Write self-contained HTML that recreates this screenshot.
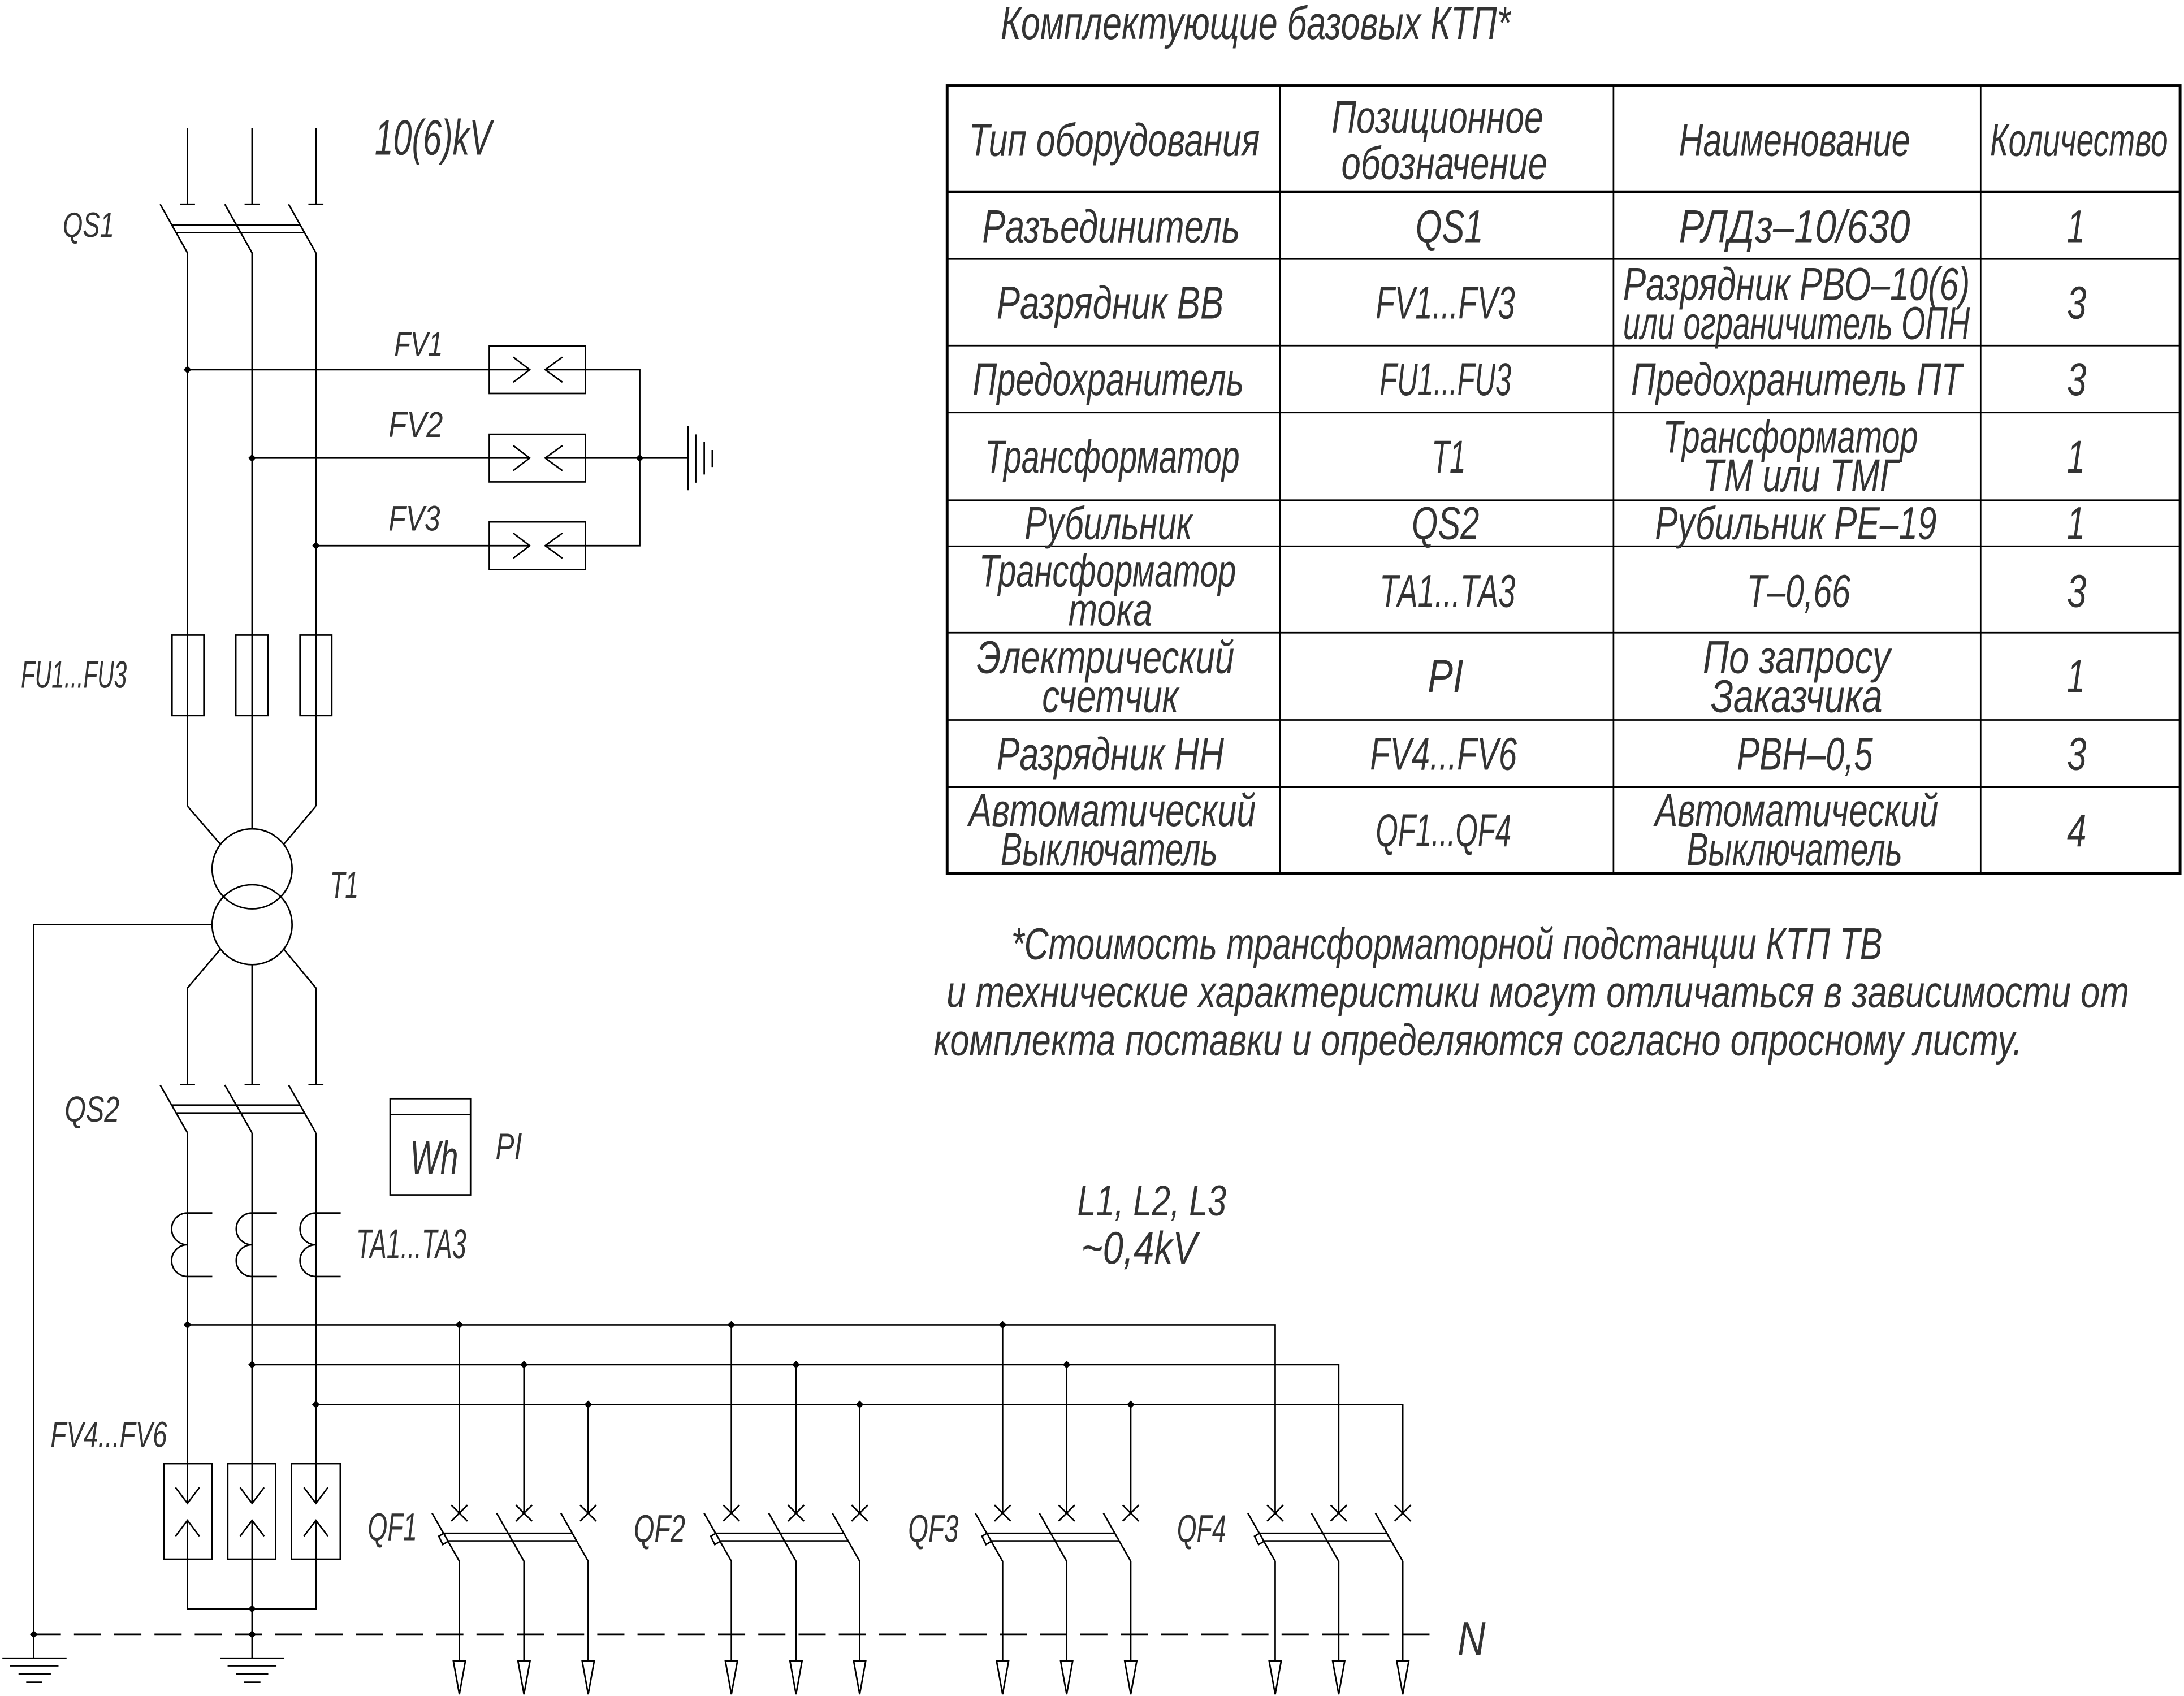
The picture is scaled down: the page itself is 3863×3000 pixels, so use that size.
<!DOCTYPE html>
<html>
<head>
<meta charset="utf-8">
<style>
html,body{margin:0;padding:0;background:#fff;}
svg{display:block;}
</style>
</head>
<body>
<svg xmlns="http://www.w3.org/2000/svg" width="3863" height="3000" viewBox="0 0 1568 1217.7" preserveAspectRatio="none">
<rect x="0" y="0" width="1568" height="1217.7" fill="#fff"/>

<!-- ===================== DIAGRAM LINES ===================== -->
<g stroke="#000" stroke-width="1.1" fill="none" stroke-linecap="butt">
  <!-- QS1 incoming lines and T-bars -->
  <path d="M134.6,92 V146.6 M129.2,146.6 H140 M181,92 V146.6 M175.6,146.6 H186.4 M226.8,92 V146.6 M221.4,146.6 H232.2"/>
  <!-- QS1 blades -->
  <path d="M115,146.6 L134.6,181.6 M161.4,146.6 L181,181.6 M207.2,146.6 L226.8,181.6"/>
  <!-- QS1 link -->
  <path d="M123.4,161.6 H215.6 M126.5,167.1 H218.7"/>
  <!-- HV verticals -->
  <path d="M134.6,181.6 V578.8 M181,181.6 V595.1 M226.8,181.6 V578.8"/>

  <!-- FV1..FV3 -->
  <path d="M134.6,265.4 H380.3 M181,328.9 H380.3 M226.8,391.8 H380.3"/>
  <rect x="351.3" y="248.3" width="69" height="34.2"/>
  <rect x="351.3" y="311.8" width="69" height="34.2"/>
  <rect x="351.3" y="374.7" width="69" height="34.2"/>
  <path d="M368.5,256.4 L380.3,265.4 L368.5,274.4 M403.8,256.4 L391.4,265.4 L403.8,274.4"/>
  <path d="M368.5,319.9 L380.3,328.9 L368.5,337.9 M403.8,319.9 L391.4,328.9 L403.8,337.9"/>
  <path d="M368.5,382.8 L380.3,391.8 L368.5,400.8 M403.8,382.8 L391.4,391.8 L403.8,400.8"/>
  <path d="M391.4,265.4 H459.3 V391.8 H391.4 M391.4,328.9 H494"/>
  <!-- HV ground -->
  <path d="M494,305.8 V352 M499.5,311.9 V346.6 M505.6,317.3 V340.7 M511.4,323.1 V335.3"/>

  <!-- Fuses -->
  <rect x="123.5" y="456" width="22.9" height="57.8"/>
  <rect x="169.3" y="456" width="23.2" height="57.8"/>
  <rect x="215.4" y="456" width="22.8" height="57.8"/>

  <!-- Transformer -->
  <path d="M134.6,578.8 L158.2,606.1 M226.8,578.8 L203.8,606.1"/>
  <circle cx="181" cy="623.8" r="28.7"/>
  <circle cx="181" cy="663.9" r="28.7"/>
  <path d="M152.3,663.9 H24.2 V1190.6"/>
  <path d="M158.2,681.6 L134.6,709.3 V778.7 M203.8,681.6 L226.8,709.3 V778.7 M181,692.6 V778.7"/>
  <path d="M129.2,778.7 H140 M175.6,778.7 H186.4 M221.4,778.7 H232.2"/>

  <!-- QS2 -->
  <path d="M115,779 L134.6,813.4 M161.4,779 L181,813.4 M207.2,779 L226.8,813.4"/>
  <path d="M123.2,793.4 H215.4 M126.4,799.1 H218.6"/>
  <path d="M134.6,813.4 V1079.4 M181,813.4 V1079.4 M226.8,813.4 V1079.4"/>

  <!-- Meter -->
  <rect x="280.1" y="788.8" width="57.7" height="69.1"/>
  <path d="M280.1,800.3 H337.8"/>

  <!-- Current transformers -->
  <path d="M134.6,870.9 A11.4,11.4 0 0 0 134.6,893.7 A11.4,11.4 0 0 0 134.6,916.5 M134.6,870.9 H152.4 M134.6,916.5 H152.4"/>
  <path d="M181,870.9 A11.4,11.4 0 0 0 181,893.7 A11.4,11.4 0 0 0 181,916.5 M181,870.9 H198.8 M181,916.5 H198.8"/>
  <path d="M226.8,870.9 A11.4,11.4 0 0 0 226.8,893.7 A11.4,11.4 0 0 0 226.8,916.5 M226.8,870.9 H244.6 M226.8,916.5 H244.6"/>

  <!-- LV buses -->
  <path d="M134.6,951.2 H915.5 V1086.4 M181,979.8 H961.1 V1086.4 M226.8,1008.4 H1007.1 V1086.4"/>
  <path d="M329.8,951.2 V1086.4 M525.1,951.2 V1086.4 M719.8,951.2 V1086.4"/>
  <path d="M376.2,979.8 V1086.4 M571.5,979.8 V1086.4 M765.8,979.8 V1086.4"/>
  <path d="M422.3,1008.4 V1086.4 M617.2,1008.4 V1086.4 M811.8,1008.4 V1086.4"/>

  <!-- FV4..FV6 -->
  <rect x="117.8" y="1050.9" width="34.3" height="68.6"/>
  <rect x="163.5" y="1050.9" width="34.4" height="68.6"/>
  <rect x="209.3" y="1050.9" width="35" height="68.6"/>
  <path d="M126,1068 L134.6,1079.4 L143.2,1068 M126,1103 L134.6,1091.6 L143.2,1103"/>
  <path d="M172.4,1068 L181,1079.4 L189.6,1068 M172.4,1103 L181,1091.6 L189.6,1103"/>
  <path d="M218.2,1068 L226.8,1079.4 L235.4,1068 M218.2,1103 L226.8,1091.6 L235.4,1103"/>
  <path d="M134.6,1091.6 V1155.1 H226.8 V1091.6 M181,1091.6 V1190.6"/>

  <!-- Grounds -->
  <path d="M1.7,1190.6 H47.8 M7.2,1196 H42 M13.3,1201.8 H36.5 M18.8,1207.8 H30.2"/>
  <path d="M158,1190.6 H204 M163.4,1196 H198.5 M169.3,1201.8 H192.6 M175,1207.8 H187"/>

  <!-- N line -->
  <path d="M24.2,1173.4 H1028" stroke-dasharray="19.5 9.4"/>

  <!-- QF breakers: crosses, blades, down lines -->
  <path d="
  M324,1080.6 L335.6,1092.2 M335.6,1080.6 L324,1092.2
  M370.4,1080.6 L382,1092.2 M382,1080.6 L370.4,1092.2
  M416.5,1080.6 L428.1,1092.2 M428.1,1080.6 L416.5,1092.2
  M519.3,1080.6 L530.9,1092.2 M530.9,1080.6 L519.3,1092.2
  M565.7,1080.6 L577.3,1092.2 M577.3,1080.6 L565.7,1092.2
  M611.4,1080.6 L623,1092.2 M623,1080.6 L611.4,1092.2
  M714,1080.6 L725.6,1092.2 M725.6,1080.6 L714,1092.2
  M760,1080.6 L771.6,1092.2 M771.6,1080.6 L760,1092.2
  M806,1080.6 L817.6,1092.2 M817.6,1080.6 L806,1092.2
  M909.7,1080.6 L921.3,1092.2 M921.3,1080.6 L909.7,1092.2
  M955.3,1080.6 L966.9,1092.2 M966.9,1080.6 L955.3,1092.2
  M1001.3,1080.6 L1012.9,1092.2 M1012.9,1080.6 L1001.3,1092.2"/>
  <path d="
  M310.2,1086.4 L329.8,1121 V1192.7 M356.6,1086.4 L376.2,1121 V1192.7 M402.7,1086.4 L422.3,1121 V1192.7
  M505.5,1086.4 L525.1,1121 V1192.7 M551.9,1086.4 L571.5,1121 V1192.7 M597.6,1086.4 L617.2,1121 V1192.7
  M700.2,1086.4 L719.8,1121 V1192.7 M746.2,1086.4 L765.8,1121 V1192.7 M792.2,1086.4 L811.8,1121 V1192.7
  M895.9,1086.4 L915.5,1121 V1192.7 M941.5,1086.4 L961.1,1121 V1192.7 M987.5,1086.4 L1007.1,1121 V1192.7"/>
  <!-- links -->
  <path d="
  M318.4,1100.9 H410.9 M321.5,1106.3 H414
  M513.7,1100.9 H605.8 M516.8,1106.3 H608.9
  M708.4,1100.9 H800.4 M711.5,1106.3 H803.5
  M904.1,1100.9 H995.7 M907.2,1106.3 H998.8"/>
  <!-- arrows -->
  <path fill="#fff" d="
  M325.5,1192.7 H334.1 L329.8,1216.5 Z M371.9,1192.7 H380.5 L376.2,1216.5 Z M418,1192.7 H426.6 L422.3,1216.5 Z
  M520.8,1192.7 H529.4 L525.1,1216.5 Z M567.2,1192.7 H575.8 L571.5,1216.5 Z M612.9,1192.7 H621.5 L617.2,1216.5 Z
  M715.5,1192.7 H724.1 L719.8,1216.5 Z M761.5,1192.7 H770.1 L765.8,1216.5 Z M807.5,1192.7 H816.1 L811.8,1216.5 Z
  M911.2,1192.7 H919.8 L915.5,1216.5 Z M956.8,1192.7 H965.4 L961.1,1216.5 Z M1002.8,1192.7 H1011.4 L1007.1,1216.5 Z"/>
  <!-- thermal release squares -->
  <path fill="#fff" d="
  M315,1103 L318.6,1100.9 L321.7,1106.7 L317.9,1109 Z
  M510.3,1103 L513.9,1100.9 L517,1106.7 L513.2,1109 Z
  M705,1103 L708.6,1100.9 L711.7,1106.7 L707.9,1109 Z
  M900.7,1103 L904.3,1100.9 L907.4,1106.7 L903.6,1109 Z"/>

  <!-- Table -->
  <rect x="680" y="61.5" width="885.2" height="565.8" stroke-width="2"/>
  <path d="M680,137.7 H1565.2" stroke-width="2"/>
  <path d="M680,186 H1565.2 M680,248.1 H1565.2 M680,296.2 H1565.2 M680,359.1 H1565.2 M680,392.2 H1565.2 M680,454.3 H1565.2 M680,516.9 H1565.2 M680,565.1 H1565.2"/>
  <path d="M918.9,61.5 V627.3 M1158.4,61.5 V627.3 M1422,61.5 V627.3"/>
</g>

<!-- junction dots -->
<g fill="#000" stroke="none">
  <path d="M131.8,265.4 L134.6,262.6 L137.4,265.4 L134.6,268.2 Z"/>
  <path d="M178.2,328.9 L181,326.1 L183.8,328.9 L181,331.7 Z"/>
  <path d="M456.5,328.9 L459.3,326.1 L462.1,328.9 L459.3,331.7 Z"/>
  <path d="M224,391.8 L226.8,389 L229.6,391.8 L226.8,394.6 Z"/>
  <path d="M131.8,951.2 L134.6,948.4 L137.4,951.2 L134.6,954 Z"/>
  <path d="M178.2,979.8 L181,977 L183.8,979.8 L181,982.6 Z"/>
  <path d="M224,1008.4 L226.8,1005.6 L229.6,1008.4 L226.8,1011.2 Z"/>
  <path d="M327,951.2 L329.8,948.4 L332.6,951.2 L329.8,954 Z"/>
  <path d="M522.3,951.2 L525.1,948.4 L527.9,951.2 L525.1,954 Z"/>
  <path d="M717,951.2 L719.8,948.4 L722.6,951.2 L719.8,954 Z"/>
  <path d="M373.4,979.8 L376.2,977 L379,979.8 L376.2,982.6 Z"/>
  <path d="M568.7,979.8 L571.5,977 L574.3,979.8 L571.5,982.6 Z"/>
  <path d="M763,979.8 L765.8,977 L768.6,979.8 L765.8,982.6 Z"/>
  <path d="M419.5,1008.4 L422.3,1005.6 L425.1,1008.4 L422.3,1011.2 Z"/>
  <path d="M614.4,1008.4 L617.2,1005.6 L620,1008.4 L617.2,1011.2 Z"/>
  <path d="M809,1008.4 L811.8,1005.6 L814.6,1008.4 L811.8,1011.2 Z"/>
  <path d="M178.2,1155.1 L181,1152.3 L183.8,1155.1 L181,1157.9 Z"/>
  <path d="M178.2,1173.4 L181,1170.6 L183.8,1173.4 L181,1176.2 Z"/>
  <path d="M21.4,1173.4 L24.2,1170.6 L27,1173.4 L24.2,1176.2 Z"/>
</g>

<!-- ===================== TEXT ===================== -->
<g font-family="'Liberation Sans', 'DejaVu Sans', sans-serif" font-style="italic" fill="#333" stroke="none">
  <!-- Diagram labels -->
  <text x="269" y="111" font-size="35.8" textLength="84" lengthAdjust="spacingAndGlyphs">10(6)kV</text>
  <text x="45" y="170" font-size="25.1" textLength="37" lengthAdjust="spacingAndGlyphs">QS1</text>
  <text x="283" y="255.5" font-size="24.4" textLength="35" lengthAdjust="spacingAndGlyphs">FV1</text>
  <text x="279" y="313.7" font-size="26" textLength="39" lengthAdjust="spacingAndGlyphs">FV2</text>
  <text x="279" y="381" font-size="25.7" textLength="37" lengthAdjust="spacingAndGlyphs">FV3</text>
  <text x="15" y="493.8" font-size="27.6" textLength="76" lengthAdjust="spacingAndGlyphs">FU1...FU3</text>
  <text x="237" y="645" font-size="27.4" textLength="20.4" lengthAdjust="spacingAndGlyphs">T1</text>
  <text x="46.4" y="805.4" font-size="25.8" textLength="39.4" lengthAdjust="spacingAndGlyphs">QS2</text>
  <text x="294.4" y="842.9" font-size="34" textLength="34.6" lengthAdjust="spacingAndGlyphs">Wh</text>
  <text x="355.8" y="832.4" font-size="26.8" textLength="19" lengthAdjust="spacingAndGlyphs">PI</text>
  <text x="255.7" y="903.6" font-size="30" textLength="79" lengthAdjust="spacingAndGlyphs">TA1...TA3</text>
  <text x="773.4" y="872.7" font-size="31" textLength="107" lengthAdjust="spacingAndGlyphs">L1, L2, L3</text>
  <text x="776.3" y="907.1" font-size="32.7" textLength="83.3" lengthAdjust="spacingAndGlyphs">~0,4kV</text>
  <text x="36.3" y="1039" font-size="26" textLength="83.7" lengthAdjust="spacingAndGlyphs">FV4...FV6</text>
  <text x="264" y="1105.8" font-size="27.9" textLength="35.5" lengthAdjust="spacingAndGlyphs">QF1</text>
  <text x="455" y="1107" font-size="27.9" textLength="37" lengthAdjust="spacingAndGlyphs">QF2</text>
  <text x="652" y="1107" font-size="27.9" textLength="36.2" lengthAdjust="spacingAndGlyphs">QF3</text>
  <text x="845" y="1107" font-size="27.9" textLength="35.3" lengthAdjust="spacingAndGlyphs">QF4</text>
  <text x="1046.5" y="1188.2" font-size="34.4" textLength="20" lengthAdjust="spacingAndGlyphs">N</text>

  <!-- Title -->
  <text x="718.4" y="28" font-size="33.5" textLength="366" lengthAdjust="spacingAndGlyphs">Комплектующие базовых КТП*</text>

  <!-- Table header -->
  <g font-size="33.2">
  <text x="695.5" y="111.8" textLength="209" lengthAdjust="spacingAndGlyphs">Тип оборудования</text>
  <text x="956" y="95.3" textLength="152" lengthAdjust="spacingAndGlyphs">Позиционное</text>
  <text x="963" y="128.4" textLength="148" lengthAdjust="spacingAndGlyphs">обозначение</text>
  <text x="1205.4" y="111.8" textLength="166" lengthAdjust="spacingAndGlyphs">Наименование</text>
  <text x="1428.8" y="111.8" textLength="127.7" lengthAdjust="spacingAndGlyphs">Количество</text>

  <!-- Row 1 -->
  <text x="705.2" y="174" textLength="185" lengthAdjust="spacingAndGlyphs">Разъединитель</text>
  <text x="1016.3" y="174" textLength="48.7" lengthAdjust="spacingAndGlyphs">QS1</text>
  <text x="1205.4" y="174" textLength="166" lengthAdjust="spacingAndGlyphs">РЛДз–10/630</text>
  <text x="1484" y="174" textLength="13" lengthAdjust="spacingAndGlyphs">1</text>

  <!-- Row 2 -->
  <text x="715.5" y="228.8" textLength="163" lengthAdjust="spacingAndGlyphs">Разрядник ВВ</text>
  <text x="987.7" y="228.8" textLength="100" lengthAdjust="spacingAndGlyphs">FV1...FV3</text>
  <text x="1165.3" y="215.4" textLength="249" lengthAdjust="spacingAndGlyphs">Разрядник РВО–10(6)</text>
  <text x="1165.3" y="243.3" textLength="249" lengthAdjust="spacingAndGlyphs">или ограничитель ОПН</text>
  <text x="1484" y="228.8" textLength="14" lengthAdjust="spacingAndGlyphs">3</text>

  <!-- Row 3 -->
  <text x="698.3" y="283.7" textLength="194.7" lengthAdjust="spacingAndGlyphs">Предохранитель</text>
  <text x="990.5" y="283.7" textLength="94.5" lengthAdjust="spacingAndGlyphs">FU1...FU3</text>
  <text x="1171" y="283.7" textLength="237.7" lengthAdjust="spacingAndGlyphs">Предохранитель ПТ</text>
  <text x="1484" y="283.7" textLength="14" lengthAdjust="spacingAndGlyphs">3</text>

  <!-- Row 4 -->
  <text x="707" y="339.4" textLength="183" lengthAdjust="spacingAndGlyphs">Трансформатор</text>
  <text x="1027.8" y="339.4" textLength="24.6" lengthAdjust="spacingAndGlyphs">Т1</text>
  <text x="1194" y="325" textLength="183" lengthAdjust="spacingAndGlyphs">Трансформатор</text>
  <text x="1222.6" y="352.8" textLength="140.4" lengthAdjust="spacingAndGlyphs">ТМ или ТМГ</text>
  <text x="1484" y="339.4" textLength="13" lengthAdjust="spacingAndGlyphs">1</text>

  <!-- Row 5 -->
  <text x="735.6" y="387" textLength="120.4" lengthAdjust="spacingAndGlyphs">Рубильник</text>
  <text x="1013.5" y="387" textLength="48.5" lengthAdjust="spacingAndGlyphs">QS2</text>
  <text x="1188.2" y="387" textLength="202.2" lengthAdjust="spacingAndGlyphs">Рубильник РЕ–19</text>
  <text x="1484" y="387" textLength="13" lengthAdjust="spacingAndGlyphs">1</text>

  <!-- Row 6 -->
  <text x="703" y="421.2" textLength="184.4" lengthAdjust="spacingAndGlyphs">Трансформатор</text>
  <text x="767" y="449.1" textLength="60.3" lengthAdjust="spacingAndGlyphs">тока</text>
  <text x="990.5" y="435.7" textLength="97.5" lengthAdjust="spacingAndGlyphs">ТА1...ТА3</text>
  <text x="1254" y="435.7" textLength="74.5" lengthAdjust="spacingAndGlyphs">Т–0,66</text>
  <text x="1484" y="435.7" textLength="14" lengthAdjust="spacingAndGlyphs">3</text>

  <!-- Row 7 -->
  <text x="701.2" y="483.3" textLength="185" lengthAdjust="spacingAndGlyphs">Электрический</text>
  <text x="748.2" y="511.3" textLength="98" lengthAdjust="spacingAndGlyphs">счетчик</text>
  <text x="1025" y="496.8" textLength="25.7" lengthAdjust="spacingAndGlyphs">PI</text>
  <text x="1222.6" y="483.3" textLength="134.6" lengthAdjust="spacingAndGlyphs">По запросу</text>
  <text x="1228.3" y="511.3" textLength="123.2" lengthAdjust="spacingAndGlyphs">Заказчика</text>
  <text x="1484" y="496.8" textLength="13" lengthAdjust="spacingAndGlyphs">1</text>

  <!-- Row 8 -->
  <text x="715.5" y="552.7" textLength="163.3" lengthAdjust="spacingAndGlyphs">Разрядник НН</text>
  <text x="983.6" y="552.7" textLength="105.4" lengthAdjust="spacingAndGlyphs">FV4...FV6</text>
  <text x="1247" y="552.7" textLength="97.6" lengthAdjust="spacingAndGlyphs">РВН–0,5</text>
  <text x="1484" y="552.7" textLength="14" lengthAdjust="spacingAndGlyphs">3</text>

  <!-- Row 9 -->
  <text x="695.5" y="593.1" textLength="206.2" lengthAdjust="spacingAndGlyphs">Автоматический</text>
  <text x="718.4" y="621" textLength="155.8" lengthAdjust="spacingAndGlyphs">Выключатель</text>
  <text x="987.7" y="607.6" textLength="97.3" lengthAdjust="spacingAndGlyphs">QF1...QF4</text>
  <text x="1188.2" y="593.1" textLength="203.4" lengthAdjust="spacingAndGlyphs">Автоматический</text>
  <text x="1211" y="621" textLength="154.8" lengthAdjust="spacingAndGlyphs">Выключатель</text>
  <text x="1484" y="607.6" textLength="14" lengthAdjust="spacingAndGlyphs">4</text>
  </g>

  <!-- Note -->
  <g font-size="32.1">
  <text x="726" y="688.7" textLength="625.4" lengthAdjust="spacingAndGlyphs">*Стоимость трансформаторной подстанции КТП ТВ</text>
  <text x="679.6" y="723.2" textLength="849" lengthAdjust="spacingAndGlyphs">и технические характеристики могут отличаться в зависимости от</text>
  <text x="670.3" y="757.7" textLength="781.6" lengthAdjust="spacingAndGlyphs">комплекта поставки и определяются согласно опросному листу.</text>
  </g>
</g>
</svg>
</body>
</html>
